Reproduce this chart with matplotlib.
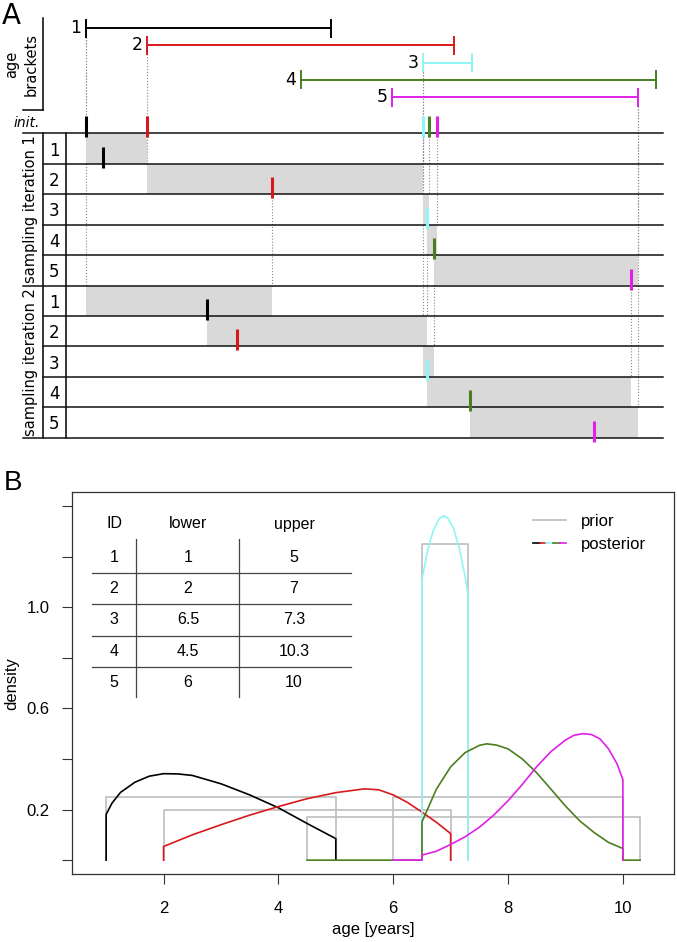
import numpy as np
import matplotlib.pyplot as plt
from matplotlib.patches import Rectangle
from matplotlib.lines import Line2D
from matplotlib.legend_handler import HandlerTuple
from matplotlib.transforms import blended_transform_factory

# age brackets (ID, lower, upper) - shared by both panels
ids = [1, 2, 3, 4, 5]
lower = [1, 2, 6.5, 4.5, 6]
upper = [5, 7, 7.3, 10.3, 10]
colors = ['black', '#d7191c', '#8ff5f5', '#4b7f1e', '#e020e8']

# sampled ages in panel A
init_ages = [1, 2, 6.5, 6.6, 6.73]
iter1_ages = [1.28, 4.03, 6.56, 6.67, 9.89]
iter2_ages = [2.98, 3.46, 6.57, 7.26, 9.28]

# posterior densities
post1_x = [1, 1, 1.1, 1.25, 1.5, 1.75, 2.0, 2.25, 2.5, 3.0, 3.5, 4.0, 4.5, 5.0, 5.0]
post1_y = [0, 0.181, 0.225, 0.268, 0.308, 0.332, 0.342, 0.341, 0.335, 0.302, 0.258, 0.207, 0.145, 0.085, 0]
post2_x = [2, 2, 2.5, 3, 3.5, 4, 4.5, 5, 5.5, 5.75, 6, 6.25, 6.5, 6.75, 7, 7]
post2_y = [0, 0.054, 0.10, 0.14, 0.178, 0.212, 0.243, 0.267, 0.282, 0.278, 0.258, 0.228, 0.19, 0.15, 0.105, 0]
post3_x = [6.5, 6.5, 6.6, 6.7, 6.8, 6.88, 6.95, 7.05, 7.15, 7.25, 7.3, 7.3]
post3_y = [0, 1.11, 1.225, 1.305, 1.351, 1.362, 1.353, 1.312, 1.235, 1.123, 1.054, 0]
post4_x = [4.5, 6.5, 6.5, 6.75, 7.0, 7.25, 7.5, 7.63, 7.8, 8.0, 8.25, 8.5, 8.75, 9.0, 9.25, 9.5, 9.75, 10.0, 10.0, 10.3]
post4_y = [0, 0, 0.151, 0.28, 0.369, 0.425, 0.454, 0.46, 0.455, 0.44, 0.40, 0.345, 0.28, 0.214, 0.155, 0.109, 0.07, 0.046, 0, 0]
post5_x = [6.0, 6.5, 6.5, 6.75, 7.0, 7.25, 7.5, 7.75, 8.0, 8.25, 8.5, 8.75, 9.0, 9.15, 9.3, 9.45, 9.6, 9.75, 9.9, 10.0, 10.0]
post5_y = [0, 0, 0.02, 0.035, 0.062, 0.092, 0.13, 0.178, 0.235, 0.30, 0.37, 0.43, 0.475, 0.494, 0.50, 0.497, 0.48, 0.44, 0.38, 0.318, 0]
posteriors = [(post1_x, post1_y), (post2_x, post2_y), (post3_x, post3_y),
              (post4_x, post4_y), (post5_x, post5_y)]

y_ticks = [0, 0.2, 0.4, 0.6, 0.8, 1.0, 1.2, 1.4]
y_labels = ['', '0.2', '', '0.6', '', '1.0', '', '']
x_ticks = [2, 4, 6, 8, 10]

W, H = 677, 942
fig = plt.figure(figsize=(W / 100, H / 100), dpi=100)

# ---------------- panel A ----------------
A_H = 450          # pixel height of panel A
X1_PX = 86         # pixel position of age 1
PX_YR = 61.3       # pixels per year
BR_Y0, BR_DY, CAP = 28, 17.25, 8.5
ROW_TOP, ROW_H = 133.3, 30.44
LINE_R = 663
fa = 'DejaVu Sans'

ax = fig.add_axes([0, 1 - A_H / H, 1, A_H / H])
ax.set_xlim(1 - X1_PX / PX_YR, 1 + (W - X1_PX) / PX_YR)
ax.set_ylim(A_H, 0)
ax.axis('off')
bt = blended_transform_factory(ax.transAxes, ax.transData)


def px(p):
    return p / W


def row_line(k):
    return ROW_TOP + k * ROW_H


# brackets
for i in range(5):
    y = BR_Y0 + i * BR_DY
    ax.plot([lower[i], upper[i]], [y, y], color=colors[i], lw=1.4, zorder=3)
    ax.plot([lower[i], lower[i]], [y - CAP, y + CAP], color=colors[i], lw=1.4, zorder=3)
    ax.plot([upper[i], upper[i]], [y - CAP, y + CAP], color=colors[i], lw=1.4, zorder=3)
    ax.annotate(str(ids[i]), xy=(lower[i], y), xytext=(-3.5, 0), textcoords='offset points',
                ha='right', va='center', fontsize=12.5, family=fa)

# label column
ax.plot([px(43), px(43)], [18, 110], color='black', lw=1.1, transform=bt)
ax.plot([px(23), px(43)], [110, 110], color='black', lw=1.1, transform=bt)
ax.text(px(12), 64, 'age', rotation=90, ha='center', va='center', fontsize=10.5,
        family=fa, transform=bt)
ax.text(px(31), 65, 'brackets', rotation=90, ha='center', va='center', fontsize=10.5,
        family=fa, transform=bt)
ax.text(px(27), 123, 'init.', style='italic', ha='center', va='center', fontsize=10,
        family=fa, transform=bt)
ax.plot([px(43), px(43)], [row_line(0), row_line(10)], color='black', lw=1.1, transform=bt)
ax.plot([px(66), px(66)], [row_line(0), row_line(10)], color='black', lw=1.1, transform=bt)
for k in range(11):
    left = 23 if k % 5 == 0 else 43
    ax.plot([px(left), px(LINE_R)], [row_line(k), row_line(k)], color='#111111', lw=1.1,
            transform=bt, zorder=3)
for t in range(2):
    ax.text(px(31), (row_line(5 * t) + row_line(5 * t + 5)) / 2,
            'sampling iteration %d' % (t + 1), rotation=90, ha='center', va='center',
            fontsize=10.5, family=fa, transform=bt)
    for i in range(5):
        k = 5 * t + i
        ax.text(px(54), (row_line(k) + row_line(k + 1)) / 2 + 2, str(ids[i]),
                ha='center', va='center', fontsize=12, family=fa, transform=bt)


def tick(x, yline, c):
    ax.plot([x, x], [yline - 17, yline + 4], color=c, lw=2.2, solid_capstyle='butt', zorder=5)


for i in range(5):
    tick(init_ages[i], row_line(0), colors[i])

cur = list(init_ages)
src_y = [row_line(0)] * 5
for t, new in enumerate([iter1_ages, iter2_ages]):
    for i in range(5):
        k = 5 * t + i
        top, bot = row_line(k), row_line(k + 1)
        br_y = BR_Y0 + i * BR_DY
        # lower bound of the sampling window
        if i == 0 or lower[i] >= cur[i - 1]:
            lo = lower[i]
            ax.plot([lo, lo], [br_y, top], color='#888888', lw=0.8, ls=':', zorder=1)
        else:
            lo = cur[i - 1]
        # upper bound of the sampling window
        if i == 4 or upper[i] <= cur[i + 1]:
            hi = upper[i]
            ax.plot([hi, hi], [br_y, top], color='#888888', lw=0.8, ls=':', zorder=1)
        else:
            hi = cur[i + 1]
            ax.plot([hi, hi], [src_y[i + 1], top], color='#888888', lw=0.8, ls=':', zorder=1)
        ax.add_patch(Rectangle((lo, top), hi - lo, bot - top, facecolor='#d9d9d9',
                               edgecolor='none', zorder=2))
        cur[i] = new[i]
        src_y[i] = bot
        tick(new[i], bot, colors[i])

fig.text(0.003, 1 - 16 / H, 'A', fontsize=20, family=fa, va='center', ha='left')

# ---------------- panel B ----------------
fb = 'Liberation Sans'
L, R, T, B = 72.3, 673.7, 492, 874.3
bx = fig.add_axes([L / W, (H - B) / H, (R - L) / W, (B - T) / H])
bx.set_xlim(0.41, 10.885)
bx.set_ylim(-0.056, 1.456)

for i in range(5):
    d = 1 / (upper[i] - lower[i])
    bx.plot([lower[i], lower[i], upper[i], upper[i]], [0, d, d, 0], color='#bebebe', lw=1.2)
for (xs, ys), c in zip(posteriors, colors):
    bx.plot(xs, ys, color=c, lw=1.2)

bx.set_xticks(x_ticks)
bx.set_xticklabels([str(v) for v in x_ticks], family=fb, fontsize=12)
bx.set_yticks(y_ticks)
bx.set_yticklabels(y_labels, family=fb, fontsize=12)
bx.tick_params(axis='both', direction='out', length=7.2, width=0.8, color='#333333')
bx.tick_params(axis='x', pad=12)
bx.tick_params(axis='y', pad=9)
for s in bx.spines.values():
    s.set_linewidth(0.9)
    s.set_color('#333333')
bx.set_xlabel('age [years]', family=fb, fontsize=12)
bx.set_ylabel('density', family=fb, fontsize=12)
bx.xaxis.set_label_coords(0.5, (B - 922) / (B - T))
bx.yaxis.set_label_coords((19 - L) / (R - L), 0.5)

# table of brackets
ta = bx.transAxes


def fx(p):
    return (p - L) / (R - L)


def fy(p):
    return (B - p) / (B - T)


col_x = [fx(114), fx(188), fx(294)]
hdr_y = fy(524)
for cx, h in zip(col_x, ['ID', 'lower', 'upper']):
    bx.text(cx, hdr_y, h, ha='center', va='center', fontsize=11.5, family=fb, transform=ta)
TR0, TRH = 557, 31.4
for r in range(5):
    yy = fy(TR0 + r * TRH)
    for cx, v in zip(col_x, [ids[r], lower[r], upper[r]]):
        bx.text(cx, yy, '%g' % v, ha='center', va='center', fontsize=11.5, family=fb,
                transform=ta)
    if r < 4:
        ly = fy(TR0 + (r + 0.5) * TRH)
        bx.plot([fx(92), fx(351)], [ly, ly], color='#444444', lw=0.9, transform=ta)
for vx in [136, 239]:
    bx.plot([fx(vx), fx(vx)], [fy(539), fy(697)], color='#444444', lw=0.9, transform=ta)

handles = [Line2D([], [], color='#bebebe', lw=1.2),
           tuple(Line2D([], [], color=c, lw=1.2) for c in colors)]
bx.legend(handles, ['prior', 'posterior'], handler_map={tuple: HandlerTuple(ndivide=None, pad=0)},
          loc='upper left', bbox_to_anchor=(fx(533), fy(514)), frameon=False,
          prop={'family': fb, 'size': 12}, handlelength=2.0, handletextpad=0.9,
          labelspacing=0.45, borderaxespad=0, borderpad=0)

fig.text(0.006, 1 - 483 / H, 'B', fontsize=20, family=fb, va='center', ha='left')

fig.savefig('out.png', dpi=100)
